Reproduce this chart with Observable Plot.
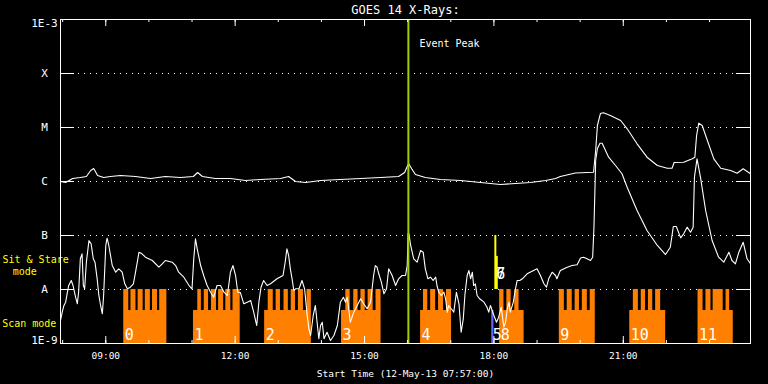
<!DOCTYPE html>
<html>
<head>
<meta charset="utf-8">
<script src="https://cdn.jsdelivr.net/npm/d3@7"></script>
<script src="https://cdn.jsdelivr.net/npm/@observablehq/plot@0.6"></script>
<style>
  html, body { margin: 0; padding: 0; background: #000; }
  #chart svg { display: block; }
</style>
</head>
<body>
<div id="chart"></div>
<script>
// ---------- DATA (times = decimal hours UTC on 12-May-2013, flux = log10 W/m^2) ----------
const lowTime = [7.95,7.99,8.03,8.07,8.11,8.14,8.20,8.24,8.30,8.34,8.37,8.41,8.45,8.48,8.51,8.55,8.61,8.66,8.71,8.75,8.80,8.84,8.88,8.92,8.95,9.00,9.03,9.07,9.15,9.23,9.30,9.38,9.44,9.50,9.57,9.64,9.69,9.77,9.84,9.92,10.08,10.23,10.31,10.38,10.54,10.62,10.69,10.81,10.93,11.00,11.04,11.08,11.12,11.20,11.27,11.35,11.43,11.50,11.58,11.66,11.74,11.82,11.89,11.95,12.01,12.06,12.12,12.20,12.28,12.36,12.43,12.50,12.55,12.60,12.66,12.74,12.82,12.97,13.11,13.16,13.20,13.24,13.28,13.32,13.36,13.40,13.48,13.55,13.61,13.67,13.71,13.75,13.81,13.86,13.90,13.94,13.98,14.02,14.06,14.13,14.21,14.29,14.37,14.44,14.51,14.56,14.60,14.67,14.75,14.83,14.91,14.98,15.06,15.14,15.21,15.25,15.29,15.33,15.39,15.45,15.51,15.56,15.64,15.72,15.79,15.87,15.95,15.99,16.01,16.03,16.07,16.14,16.22,16.30,16.36,16.41,16.47,16.53,16.59,16.65,16.68,16.72,16.78,16.84,16.88,16.92,16.95,17.01,17.07,17.13,17.19,17.24,17.29,17.33,17.38,17.42,17.46,17.50,17.53,17.57,17.61,17.67,17.77,17.84,17.88,17.92,17.96,18.00,18.06,18.11,18.17,18.23,18.27,18.31,18.35,18.38,18.45,18.50,18.54,18.60,18.66,18.77,18.92,19.00,19.08,19.16,19.22,19.27,19.35,19.43,19.46,19.54,19.70,19.81,19.93,20.01,20.08,20.16,20.24,20.29,20.32,20.36,20.40,20.46,20.51,20.66,20.82,20.97,21.09,21.32,21.55,21.79,21.98,22.09,22.16,22.23,22.33,22.40,22.48,22.56,22.62,22.65,22.71,22.79,22.91,23.06,23.21,23.33,23.45,23.52,23.60,23.68,23.78,23.87,23.95];
const lowLog10 = [-8.574,-8.420,-8.296,-8.235,-8.050,-7.926,-7.833,-7.926,-8.143,-8.265,-8.050,-7.431,-7.339,-7.926,-7.987,-7.494,-7.093,-7.154,-7.431,-7.494,-7.802,-8.111,-8.296,-8.450,-8.111,-7.185,-7.050,-7.185,-7.556,-7.680,-7.617,-7.680,-7.894,-7.987,-7.957,-7.894,-7.680,-7.309,-7.339,-7.402,-7.463,-7.587,-7.524,-7.463,-7.494,-7.556,-7.680,-7.772,-7.926,-7.987,-7.431,-7.061,-7.246,-7.556,-7.741,-7.926,-8.050,-8.143,-7.926,-7.926,-8.050,-8.111,-7.680,-7.556,-7.741,-8.050,-8.056,-8.265,-8.235,-8.204,-8.420,-8.667,-8.235,-7.957,-7.833,-7.926,-7.894,-7.802,-7.741,-7.494,-7.246,-7.370,-7.617,-7.802,-8.019,-7.987,-7.987,-7.833,-7.987,-8.481,-8.728,-8.852,-8.481,-8.296,-8.606,-8.913,-8.667,-8.606,-8.913,-8.791,-8.944,-8.852,-8.667,-8.235,-8.143,-8.235,-8.143,-8.606,-8.420,-8.296,-8.172,-8.265,-8.357,-8.235,-7.741,-7.556,-7.587,-7.709,-7.865,-8.080,-7.987,-7.617,-7.741,-7.926,-7.802,-7.741,-7.741,-7.556,-6.963,-6.969,-7.185,-7.431,-7.494,-7.278,-7.309,-7.617,-7.802,-7.772,-7.833,-7.772,-7.926,-8.050,-8.111,-8.050,-8.172,-8.420,-8.296,-8.357,-8.420,-8.050,-8.265,-8.791,-8.543,-8.080,-7.741,-7.648,-7.802,-7.680,-7.926,-7.894,-8.111,-8.172,-8.235,-8.328,-8.420,-8.296,-8.389,-8.481,-8.606,-8.513,-8.328,-8.698,-8.606,-8.357,-8.235,-8.420,-8.235,-7.987,-7.833,-7.833,-7.802,-7.709,-7.648,-7.617,-7.741,-7.894,-7.957,-7.802,-7.680,-7.741,-7.802,-7.648,-7.587,-7.556,-7.543,-7.417,-7.402,-7.431,-7.463,-7.402,-6.846,-5.611,-5.389,-5.291,-5.291,-5.550,-5.704,-5.857,-6.106,-6.537,-6.907,-7.185,-7.352,-7.217,-6.833,-6.833,-7.043,-6.969,-6.846,-6.939,-6.846,-5.920,-5.580,-5.920,-6.537,-7.093,-7.402,-7.494,-7.309,-7.463,-7.524,-7.309,-7.124,-7.431,-7.524];

const highTime = [7.95,8.07,8.23,8.41,8.55,8.65,8.72,8.81,8.95,9.11,9.34,9.69,10.04,10.38,10.73,11.03,11.13,11.24,11.54,11.89,12.24,12.59,13.05,13.24,13.40,13.63,13.98,14.44,14.91,15.37,15.79,15.93,16.02,16.09,16.18,16.41,16.76,17.23,17.69,18.15,18.50,18.85,19.20,19.43,19.54,19.89,20.31,20.36,20.40,20.47,20.54,20.70,20.94,21.09,21.32,21.55,21.79,22.02,22.13,22.18,22.40,22.60,22.66,22.70,22.75,22.83,22.95,23.10,23.26,23.49,23.64,23.78,23.95];
const highLog10 = [-6.000,-6.019,-5.944,-5.926,-5.907,-5.796,-5.759,-5.889,-5.926,-5.907,-5.889,-5.907,-5.944,-5.907,-5.926,-5.907,-5.833,-5.907,-5.944,-5.944,-5.981,-5.963,-5.944,-5.907,-6.000,-6.019,-5.981,-5.963,-5.944,-5.926,-5.907,-5.833,-5.667,-5.759,-5.870,-5.926,-5.963,-5.981,-6.019,-6.056,-6.037,-6.019,-5.981,-5.944,-5.907,-5.843,-5.828,-5.426,-4.963,-4.741,-4.728,-4.778,-4.870,-5.024,-5.302,-5.550,-5.704,-5.754,-5.754,-5.648,-5.643,-5.580,-5.550,-5.148,-4.920,-4.963,-5.241,-5.580,-5.754,-5.796,-5.846,-5.765,-5.857];

// observation blocks (scan mode)
const blockId    = ["0","1","2","3","4","5","8","9","10","11"];
const blockKind  = ["scan","scan","scan","scan","scan","other","scan","scan","scan","scan"];
const blockStart = ["09:25","11:02","12:41","14:28","16:18","17:57","18:08","19:31","21:09","22:44"];
const blockEnd   = ["10:25","12:07","13:46","15:23","17:01","18:00","18:42","20:21","21:59","23:33"];
const rasterStart = ["09:25","11:08","12:46","14:34","16:22","18:08","19:31","21:14","22:44"];
const rasterEnd   = ["10:25","12:07","13:46","15:23","17:01","18:35","20:21","21:52","23:28"];
const gapStart = ["09:32","09:42","09:52","10:02","10:12","11:13","11:23","11:34","11:44","11:54","12:53","13:03","13:14","13:24","13:35","14:40","14:51","15:01","15:12","16:28","16:39","16:50","18:14","18:24","19:38","19:49","19:59","20:10","21:21","21:31","21:41","22:51","23:02","23:19"];
const gapEnd   = ["09:35","09:45","09:55","10:05","10:15","11:17","11:27","11:37","11:47","11:57","12:57","13:08","13:18","13:28","13:40","14:45","14:55","15:05","15:16","16:32","16:43","16:54","18:18","18:29","19:42","19:53","20:03","20:14","21:25","21:35","21:45","22:55","23:05","23:23"];

// sit & stare observations
const stareId   = ["6","7"];
const stareTime = ["18:02","18:04"];
const stareTop  = [1e-7, 4.1e-8];

const eventPeak = "16:01";
const yTickVals  = [1e-8,1e-7,1e-6,1e-5,1e-4];
const yTickNames = ["A","B","C","M","X"];

// ---------- BUILD ----------
const day = Date.UTC(2013, 4, 12);
const fromHours = h => new Date(day + h * 3600000);
const hm = s => { const [H, M] = s.split(":").map(Number); return new Date(day + (H * 60 + M) * 60000); };

const low  = lowTime.map((t, i) => ({t: fromHours(t), f: 10 ** lowLog10[i]}));
const high = highTime.map((t, i) => ({t: fromHours(t), f: 10 ** highLog10[i]}));
const blocks = blockId.map((id, i) => ({id, kind: blockKind[i], x1: hm(blockStart[i]), x2: hm(blockEnd[i])}));
const rasters = rasterStart.map((s, i) => ({x1: hm(s), x2: hm(rasterEnd[i])}));
const gaps = gapStart.map((s, i) => ({x1: hm(s), x2: hm(gapEnd[i])}));
const stares = stareId.map((id, i) => ({id, t: hm(stareTime[i]), top: stareTop[i]}));

const domain = [hm("07:57"), hm("23:57")];
const majorTicks = d3.utcHour.every(3).range(hm("09:00"), domain[1]);
const minorTicks = d3.utcHour.range(hm("08:00"), domain[1]);
const ORANGE = "#ff8000";
const FONT = "DejaVu Sans Mono";
const W = 768, H = 384, ML = 60, MR = 18, MT = 19, MB = 41;
const FW = W - ML - MR, FH = H - MT - MB;

const chart = Plot.plot({
  width: W,
  height: H,
  marginLeft: ML,
  marginRight: MR,
  marginTop: MT,
  marginBottom: MB,
  style: {background: "#000", color: "#fff", fontFamily: FONT, fontSize: "10px"},
  x: {type: "utc", domain},
  y: {type: "log", domain: [1e-9, 1e-3], axis: null},
  marks: [
    Plot.gridY(yTickVals, {stroke: "#fff", strokeOpacity: 1, strokeDasharray: "1,5"}),
    // scan blocks
    Plot.rect(blocks, {x1: "x1", x2: "x2", y1: () => 1e-9, y2: () => 4.08e-9, fill: d => d.kind === "scan" ? ORANGE : "#6666ff"}),
    Plot.rect(rasters, {x1: "x1", x2: "x2", y1: () => 4e-9, y2: () => 1e-8, fill: ORANGE}),
    Plot.rect(gaps, {x1: "x1", x2: "x2", y1: () => 4.08e-9, y2: () => 1e-8, fill: "#000"}),
    // GOES curves
    Plot.line(high, {x: "t", y: "f", stroke: "#fff", strokeWidth: 1.1}),
    Plot.line(low, {x: "t", y: "f", stroke: "#fff", strokeWidth: 1.1}),
    // sit & stare
    Plot.ruleX(stares, {x: "t", y1: () => 1e-8, y2: "top", stroke: "#ffff00", strokeWidth: 2}),
    // event peak
    Plot.ruleX([hm(eventPeak)], {stroke: "#a0d000", strokeWidth: 2}),
    Plot.text([hm(eventPeak)], {x: d => d, frameAnchor: "top", text: () => "Event Peak", dx: 11, dy: 20, textAnchor: "start", lineAnchor: "top", fill: "#fff", fontSize: 10}),
    // block labels
    Plot.text(blocks, {x: "x1", frameAnchor: "bottom", text: "id", dx: 1, dy: -4, textAnchor: "start", lineAnchor: "bottom", fill: "#fff", fontSize: 15}),
    Plot.text(stares, {x: () => hm(stareTime[0]), y: () => 1e-8, text: "id", dx: 1, dy: -11, textAnchor: "start", lineAnchor: "bottom", fill: "#fff", fontSize: 15}),
    // left labels
    Plot.text(["Sit & Stare"], {frameAnchor: "left", y: () => 3.16e-8, text: d => d, dx: -58, dy: -3, textAnchor: "start", lineAnchor: "middle", fill: "#ffff00", fontSize: 10}),
    Plot.text(["mode"], {frameAnchor: "left", y: () => 3.16e-8, text: d => d, dx: -47.7, dy: 9, textAnchor: "start", lineAnchor: "middle", fill: "#ffff00", fontSize: 10}),
    Plot.text(["Scan mode"], {frameAnchor: "left", y: () => 3.16e-9, text: d => d, dx: -58.3, dy: 7, textAnchor: "start", lineAnchor: "middle", fill: "#ffff00", fontSize: 10}),
    // y labels
    Plot.text(yTickVals, {frameAnchor: "left", y: d => d, text: (d, i) => yTickNames[i], dx: -16, textAnchor: "middle", lineAnchor: "middle", fill: "#fff", fontSize: 11}),
    Plot.text([1e-3], {frameAnchor: "left", y: d => d, text: () => "1E-3", dx: -16, textAnchor: "middle", lineAnchor: "top", fill: "#fff", fontSize: 11}),
    Plot.text([1e-9], {frameAnchor: "left", y: d => d, text: () => "1E-9", dx: -16, textAnchor: "middle", lineAnchor: "bottom", fill: "#fff", fontSize: 11}),
    // frame & inward ticks
    Plot.frame({stroke: "#fff"}),
    Plot.tickY(yTickVals, {y: d => d, stroke: "#fff", insetRight: FW - 14}),
    Plot.tickY(yTickVals, {y: d => d, stroke: "#fff", insetLeft: FW - 14}),
    Plot.tickX(minorTicks, {x: d => d, stroke: "#fff", insetTop: FH - 3}),
    Plot.tickX(majorTicks, {x: d => d, stroke: "#fff", insetTop: FH - 7}),
    Plot.tickX(minorTicks, {x: d => d, stroke: "#fff", insetBottom: FH - 3}),
    Plot.tickX(majorTicks, {x: d => d, stroke: "#fff", insetBottom: FH - 7}),
    Plot.axisX(majorTicks, {anchor: "bottom", tickSize: 0, tickPadding: 9, tickFormat: d3.utcFormat("%H:%M"), fill: "#fff", fontSize: 9.5}),
    Plot.text(["Start Time (12-May-13 07:57:00)"], {frameAnchor: "bottom", text: d => d, dy: 30, lineAnchor: "middle", fill: "#fff", fontSize: 9.5}),
    Plot.text(["GOES 14 X-Rays:"], {frameAnchor: "top", text: d => d, dy: -9, lineAnchor: "middle", fill: "#fff", fontSize: 12})
  ]
});
document.getElementById("chart").appendChild(chart);
</script>
</body>
</html>
